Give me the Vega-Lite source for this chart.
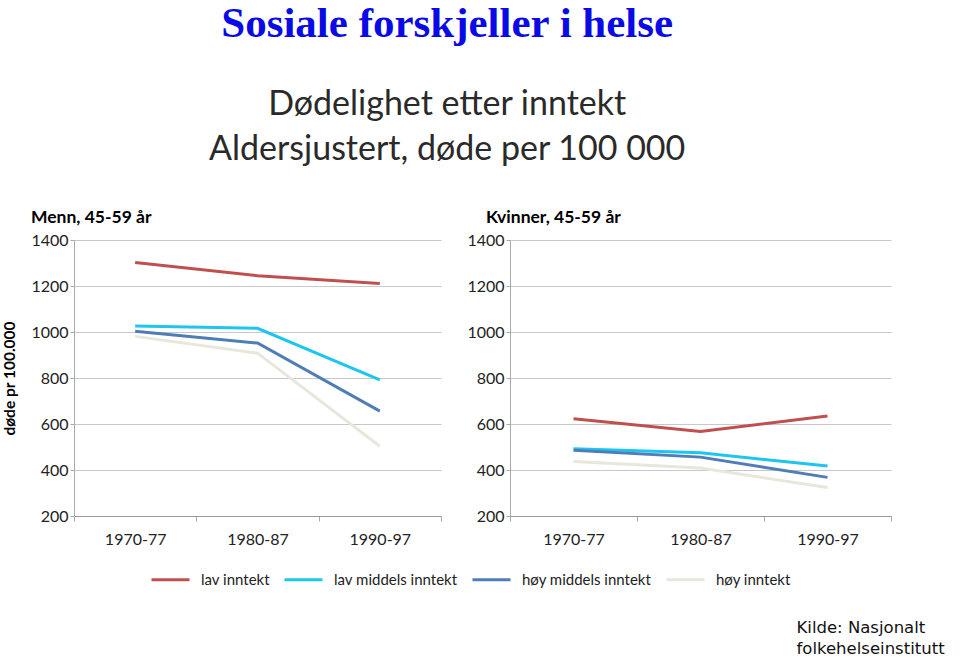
{
  "$schema": "https://vega.github.io/schema/vega-lite/v6.json",
  "padding": {"left": 2, "top": 2, "right": 0, "bottom": 0},
  "background": "white",
  "title": {
    "text": ["Kilde: Nasjonalt", "folkehelseinstitutt"],
    "orient": "bottom",
    "anchor": "end",
    "align": "left",
    "dx": -95,
    "offset": 32,
    "font": "DejaVu Sans",
    "fontSize": 16.5,
    "fontWeight": "normal",
    "color": "#111",
    "lineHeight": 21
  },
  "data": {
    "values": [
      {"sex": "Menn", "period": "1970-77", "group": "lav inntekt", "value": 1302},
      {"sex": "Menn", "period": "1980-87", "group": "lav inntekt", "value": 1245},
      {"sex": "Menn", "period": "1990-97", "group": "lav inntekt", "value": 1211},
      {"sex": "Menn", "period": "1970-77", "group": "lav middels inntekt", "value": 1026},
      {"sex": "Menn", "period": "1980-87", "group": "lav middels inntekt", "value": 1016},
      {"sex": "Menn", "period": "1990-97", "group": "lav middels inntekt", "value": 792},
      {"sex": "Menn", "period": "1970-77", "group": "høy middels inntekt", "value": 1003},
      {"sex": "Menn", "period": "1980-87", "group": "høy middels inntekt", "value": 952},
      {"sex": "Menn", "period": "1990-97", "group": "høy middels inntekt", "value": 656},
      {"sex": "Menn", "period": "1970-77", "group": "høy inntekt", "value": 981},
      {"sex": "Menn", "period": "1980-87", "group": "høy inntekt", "value": 908},
      {"sex": "Menn", "period": "1990-97", "group": "høy inntekt", "value": 503},
      {"sex": "Kvinner", "period": "1970-77", "group": "lav inntekt", "value": 623},
      {"sex": "Kvinner", "period": "1980-87", "group": "lav inntekt", "value": 567},
      {"sex": "Kvinner", "period": "1990-97", "group": "lav inntekt", "value": 635},
      {"sex": "Kvinner", "period": "1970-77", "group": "lav middels inntekt", "value": 492},
      {"sex": "Kvinner", "period": "1980-87", "group": "lav middels inntekt", "value": 475},
      {"sex": "Kvinner", "period": "1990-97", "group": "lav middels inntekt", "value": 417},
      {"sex": "Kvinner", "period": "1970-77", "group": "høy middels inntekt", "value": 486},
      {"sex": "Kvinner", "period": "1980-87", "group": "høy middels inntekt", "value": 456},
      {"sex": "Kvinner", "period": "1990-97", "group": "høy middels inntekt", "value": 368},
      {"sex": "Kvinner", "period": "1970-77", "group": "høy inntekt", "value": 437},
      {"sex": "Kvinner", "period": "1980-87", "group": "høy inntekt", "value": 409},
      {"sex": "Kvinner", "period": "1990-97", "group": "høy inntekt", "value": 324}
    ]
  },
  "vconcat": [
    {
      "title": {
        "text": "Sosiale forskjeller i helse",
        "subtitle": ["Dødelighet etter inntekt", "Aldersjustert, døde per 100 000"],
        "anchor": "middle",
        "font": "Liberation Serif",
        "fontSize": 43,
        "fontWeight": "bold",
        "color": "#0a0ae6",
        "subtitleFont": "Lato",
        "subtitleFontSize": 34,
        "subtitleColor": "#2a2a2a",
        "subtitleLineHeight": 45,
        "subtitlePadding": 42,
        "offset": 42
      },
      "spacing": 24,
      "hconcat": [
        {
          "title": {"text": "Menn, 45-59 år", "anchor": "start", "frame": "group", "dx": -43, "font": "Lato", "fontSize": 17.5, "fontWeight": "bold", "color": "#000", "offset": 6},
          "width": 367,
          "height": 276,
          "transform": [{"filter": "datum.sex === 'Menn'"}],
          "mark": {"type": "line", "strokeWidth": 3},
          "encoding": {
            "x": {"field": "period", "type": "ordinal", "title": null,
                  "scale": {"paddingInner": 0, "paddingOuter": 0},
                  "axis": {"labelAngle": 0, "tickBand": "extent", "tickSize": 5, "labelPadding": 10, "labelFontSize": 16, "labelFont": "Lato", "labelColor": "#222", "domainColor": "#999", "tickColor": "#aaa"}},
            "y": {"field": "value", "type": "quantitative", "title": "døde pr 100.000",
                  "scale": {"domain": [200, 1400], "nice": false},
                  "axis": {"values": [200, 400, 600, 800, 1000, 1200, 1400], "format": "d", "tickSize": 4, "labelPadding": 2, "labelFontSize": 16, "labelFont": "Lato", "labelColor": "#222", "domainColor": "#aaa", "tickColor": "#aaa", "gridColor": "#c8c8c8", "titleFont": "Lato", "titleFontSize": 15.5, "titleFontWeight": "bold", "titleColor": "#000", "titlePadding": 13}},
            "color": {"field": "group", "type": "nominal", "title": null,
                      "scale": {"domain": ["lav inntekt", "lav middels inntekt", "høy middels inntekt", "høy inntekt"], "range": ["#c0504d", "#1cc6f0", "#4f7db6", "#e8e7dc"]},
                      "legend": {"orient": "none", "legendX": 76, "legendY": 319}}
          }
        },
        {
          "title": {"text": "Kvinner, 45-59 år", "anchor": "start", "frame": "group", "dx": -24, "font": "Lato", "fontSize": 17.5, "fontWeight": "bold", "color": "#000", "offset": 6},
          "width": 381,
          "height": 276,
          "transform": [{"filter": "datum.sex === 'Kvinner'"}],
          "mark": {"type": "line", "strokeWidth": 3},
          "encoding": {
            "x": {"field": "period", "type": "ordinal", "title": null,
                  "scale": {"paddingInner": 0, "paddingOuter": 0},
                  "axis": {"labelAngle": 0, "tickBand": "extent", "tickSize": 5, "labelPadding": 10, "labelFontSize": 16, "labelFont": "Lato", "labelColor": "#222", "domainColor": "#999", "tickColor": "#aaa"}},
            "y": {"field": "value", "type": "quantitative", "title": null,
                  "scale": {"domain": [200, 1400], "nice": false},
                  "axis": {"values": [200, 400, 600, 800, 1000, 1200, 1400], "format": "d", "tickSize": 4, "labelPadding": 2, "labelFontSize": 16, "labelFont": "Lato", "labelColor": "#222", "domainColor": "#aaa", "tickColor": "#aaa", "gridColor": "#c8c8c8"}},
            "color": {"field": "group", "type": "nominal", "title": null,
                      "scale": {"domain": ["lav inntekt", "lav middels inntekt", "høy middels inntekt", "høy inntekt"], "range": ["#c0504d", "#1cc6f0", "#4f7db6", "#e8e7dc"]},
                      "legend": {"orient": "none", "legendX": 76, "legendY": 319}}
          }
        }
      ]
    }
  ],
  "config": {
    "view": {"stroke": null},
    "legend": {
      "direction": "horizontal",
      "columns": 4,
      "symbolType": "stroke",
      "symbolSize": 1444,
      "symbolStrokeWidth": 3,
      "labelFont": "Lato",
      "labelFontSize": 15,
      "labelColor": "#222",
      "labelOffset": 10,
      "columnPadding": 8
    }
  }
}
